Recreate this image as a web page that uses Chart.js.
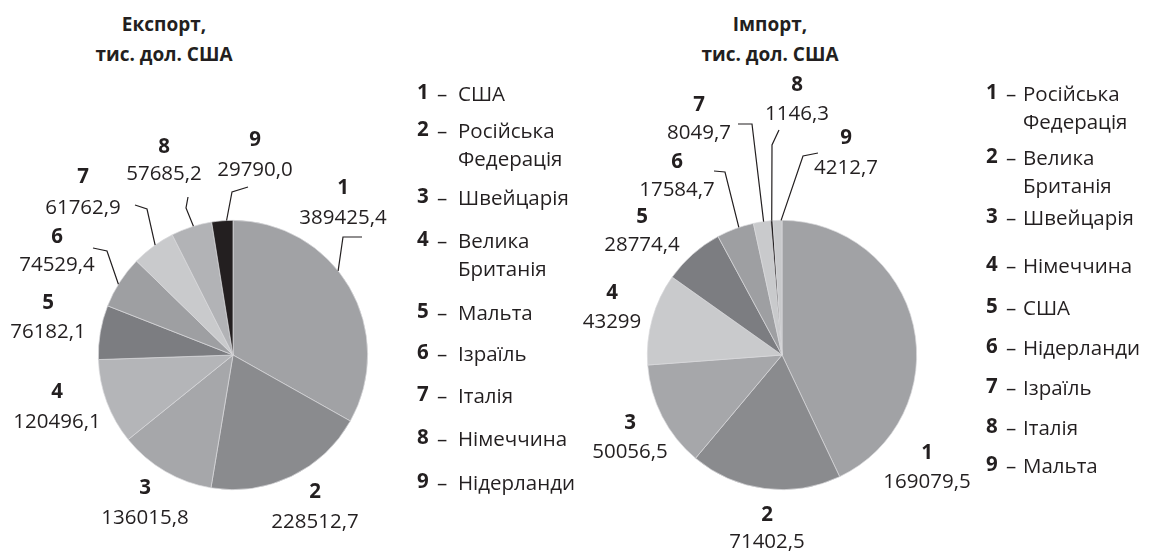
<!DOCTYPE html>
<html lang="uk">
<head>
<meta charset="utf-8">
<title>Експорт та імпорт</title>
<script src="https://cdn.jsdelivr.net/npm/chart.js@4.4.1/dist/chart.umd.min.js"></script>
<style>
  body { margin: 0; background: #fff; }
  #wrap { position: relative; width: 1157px; height: 553px; overflow: hidden; font-family: "Open Sans", sans-serif; color: #231f20; }
  canvas { position: absolute; top: 0; }
  .title { position: absolute; top: 9px; width: 220px; text-align: center; font-weight: bold; font-size: 19px; line-height: 30px; }
  .item { position: absolute; font-size: 20.5px; line-height: 28px; }
  .item b { position: absolute; left: 0; top: -2px; }
  .item .dash { position: absolute; left: 20px; top: 0; }
  .item .name { position: absolute; top: 0; width: 100px; }
</style>
</head>
<body>
<div id="wrap">
  <div class="title" style="left:54px">Експорт,<br>тис. дол. США</div>
  <div class="title" style="left:660px">Імпорт,<br>тис. дол. США</div>
  <canvas id="exportChart" width="560" height="553" style="left:0"></canvas>
  <canvas id="importChart" width="597" height="553" style="left:560px"></canvas>
  <div id="exportLegend"></div>
  <div id="importLegend"></div>
</div>
<script>
// Дані
const exportLabels = ['США', 'Російська Федерація', 'Швейцарія', 'Велика Британія', 'Мальта', 'Ізраїль', 'Італія', 'Німеччина', 'Нідерланди'];
const exportValues = [389425.4, 228512.7, 136015.8, 120496.1, 76182.1, 74529.4, 61762.9, 57685.2, 29790.0];
const exportDecimals = [1, 1, 1, 1, 1, 1, 1, 1, 1];

const importLabels = ['Російська Федерація', 'Велика Британія', 'Швейцарія', 'Німеччина', 'США', 'Нідерланди', 'Ізраїль', 'Італія', 'Мальта'];
const importValues = [169079.5, 71402.5, 50056.5, 43299, 28774.4, 17584.7, 8049.7, 1146.3, 4212.7];
const importDecimals = [1, 1, 1, 0, 1, 1, 1, 1, 1];

// Кольори секторів
const exportColors = ['#a1a2a5', '#8a8b8e', '#a6a7aa', '#b4b5b8', '#7c7d81', '#9e9fa2', '#c9cacc', '#b2b3b6', '#231f20'];
const importColors = ['#a1a2a5', '#8a8b8e', '#a6a7aa', '#c9cacc', '#7c7d81', '#9e9fa2', '#c9cacc', '#231f20', '#c9cacc'];

// Розміщення підписів (x, y номера, y значення)
const exportLabelPos = [[343, 188, 218], [315, 492, 522], [145, 488, 518], [57, 392, 422], [48, 303, 332], [57, 237, 265], [83, 177, 208], [164, 147, 174], [255, 140, 170]];
const importLabelPos = [[367, 453, 482], [207, 515, 542], [70, 423, 452], [52, 293, 322], [82, 217, 245], [117, 162, 190], [139, 105, 133], [237, 85, 114], [286, 138, 168]];

// Виноски: точки ламаної + частка кута сектора
const exportLeaders = { 0: [[[362, 237], [343, 237]], 0.43], 5: [[[93, 248], [107, 251]], 0.45], 6: [[[135, 205], [147, 209]], 0.55], 7: [[[188, 197], [186, 208]], 0.55], 8: [[[248, 187], [232, 192]], 0.7] };
const importLeaders = { 5: [[[154, 171], [165, 172]], 0.6], 6: [[[178, 124], [192, 124]], 0.6], 7: [[[219, 130], [212, 145]], 0.5], 8: [[[258, 153], [243, 156]], 0.9] };

const exportLegendY = [93, 130, 197, 240, 312, 353, 395, 438, 482];
const importLegendY = [93, 157, 217, 265, 307, 347, 387, 427, 465];

function formatValue(v, d) {
    return v.toFixed(d).replace('.', ',');
}

// Плагін для підписів секторів
const sliceLabels = {
    id: 'sliceLabels',
    afterDraw(chart, args, opts) {
        const ctx = chart.ctx;
        const meta = chart.getDatasetMeta(0);
        const values = chart.data.datasets[0].data;
        ctx.save();
        ctx.strokeStyle = '#231f20';
        ctx.lineWidth = 1.2;
        for (const i in opts.leaders) {
            const pts = opts.leaders[i][0];
            const arc = meta.data[i];
            const a = arc.startAngle + opts.leaders[i][1] * (arc.endAngle - arc.startAngle);
            ctx.beginPath();
            ctx.moveTo(pts[0][0], pts[0][1]);
            for (let k = 1; k < pts.length; k++) ctx.lineTo(pts[k][0], pts[k][1]);
            ctx.lineTo(arc.x + Math.cos(a) * arc.outerRadius, arc.y + Math.sin(a) * arc.outerRadius);
            ctx.stroke();
        }
        ctx.fillStyle = '#231f20';
        ctx.textAlign = 'center';
        ctx.textBaseline = 'middle';
        values.forEach((v, i) => {
            const p = opts.pos[i];
            ctx.font = 'bold 20.5px "Open Sans"';
            ctx.fillText(String(i + 1), p[0], p[1]);
            ctx.font = '20.5px "Open Sans"';
            ctx.fillText(formatValue(v, opts.decimals[i]), p[0], p[2]);
        });
        ctx.restore();
    }
};

function makePie(id, labels, values, colors, padding, labelOpts) {
    return new Chart(document.getElementById(id), {
        type: 'pie',
        data: {
            labels: labels,
            datasets: [{
                data: values,
                backgroundColor: colors,
                borderColor: '#d9d9db',
                borderWidth: 0.7
            }]
        },
        options: {
            responsive: false,
            animation: false,
            events: [],
            layout: { padding: padding },
            plugins: {
                legend: { display: false },
                tooltip: { enabled: false },
                sliceLabels: labelOpts
            }
        },
        plugins: [sliceLabels]
    });
}

function buildLegend(id, labels, ys, numX, nameX) {
    const box = document.getElementById(id);
    labels.forEach((name, i) => {
        const item = document.createElement('div');
        item.className = 'item';
        item.style.left = numX + 'px';
        item.style.top = (ys[i] - 14) + 'px';
        item.innerHTML = `<b>${i + 1}</b><span class="dash">–</span><span class="name" style="left:${nameX - numX}px">${name}</span>`;
        box.appendChild(item);
    });
}

makePie('exportChart', exportLabels, exportValues, exportColors,
    { left: 98, right: 192, top: 220, bottom: 63 },
    { pos: exportLabelPos, leaders: exportLeaders, decimals: exportDecimals });

makePie('importChart', importLabels, importValues, importColors,
    { left: 87, right: 240, top: 220, bottom: 63 },
    { pos: importLabelPos, leaders: importLeaders, decimals: importDecimals });

buildLegend('exportLegend', exportLabels, exportLegendY, 417, 458);
buildLegend('importLegend', importLabels, importLegendY, 986, 1023);
</script>
</body>
</html>
